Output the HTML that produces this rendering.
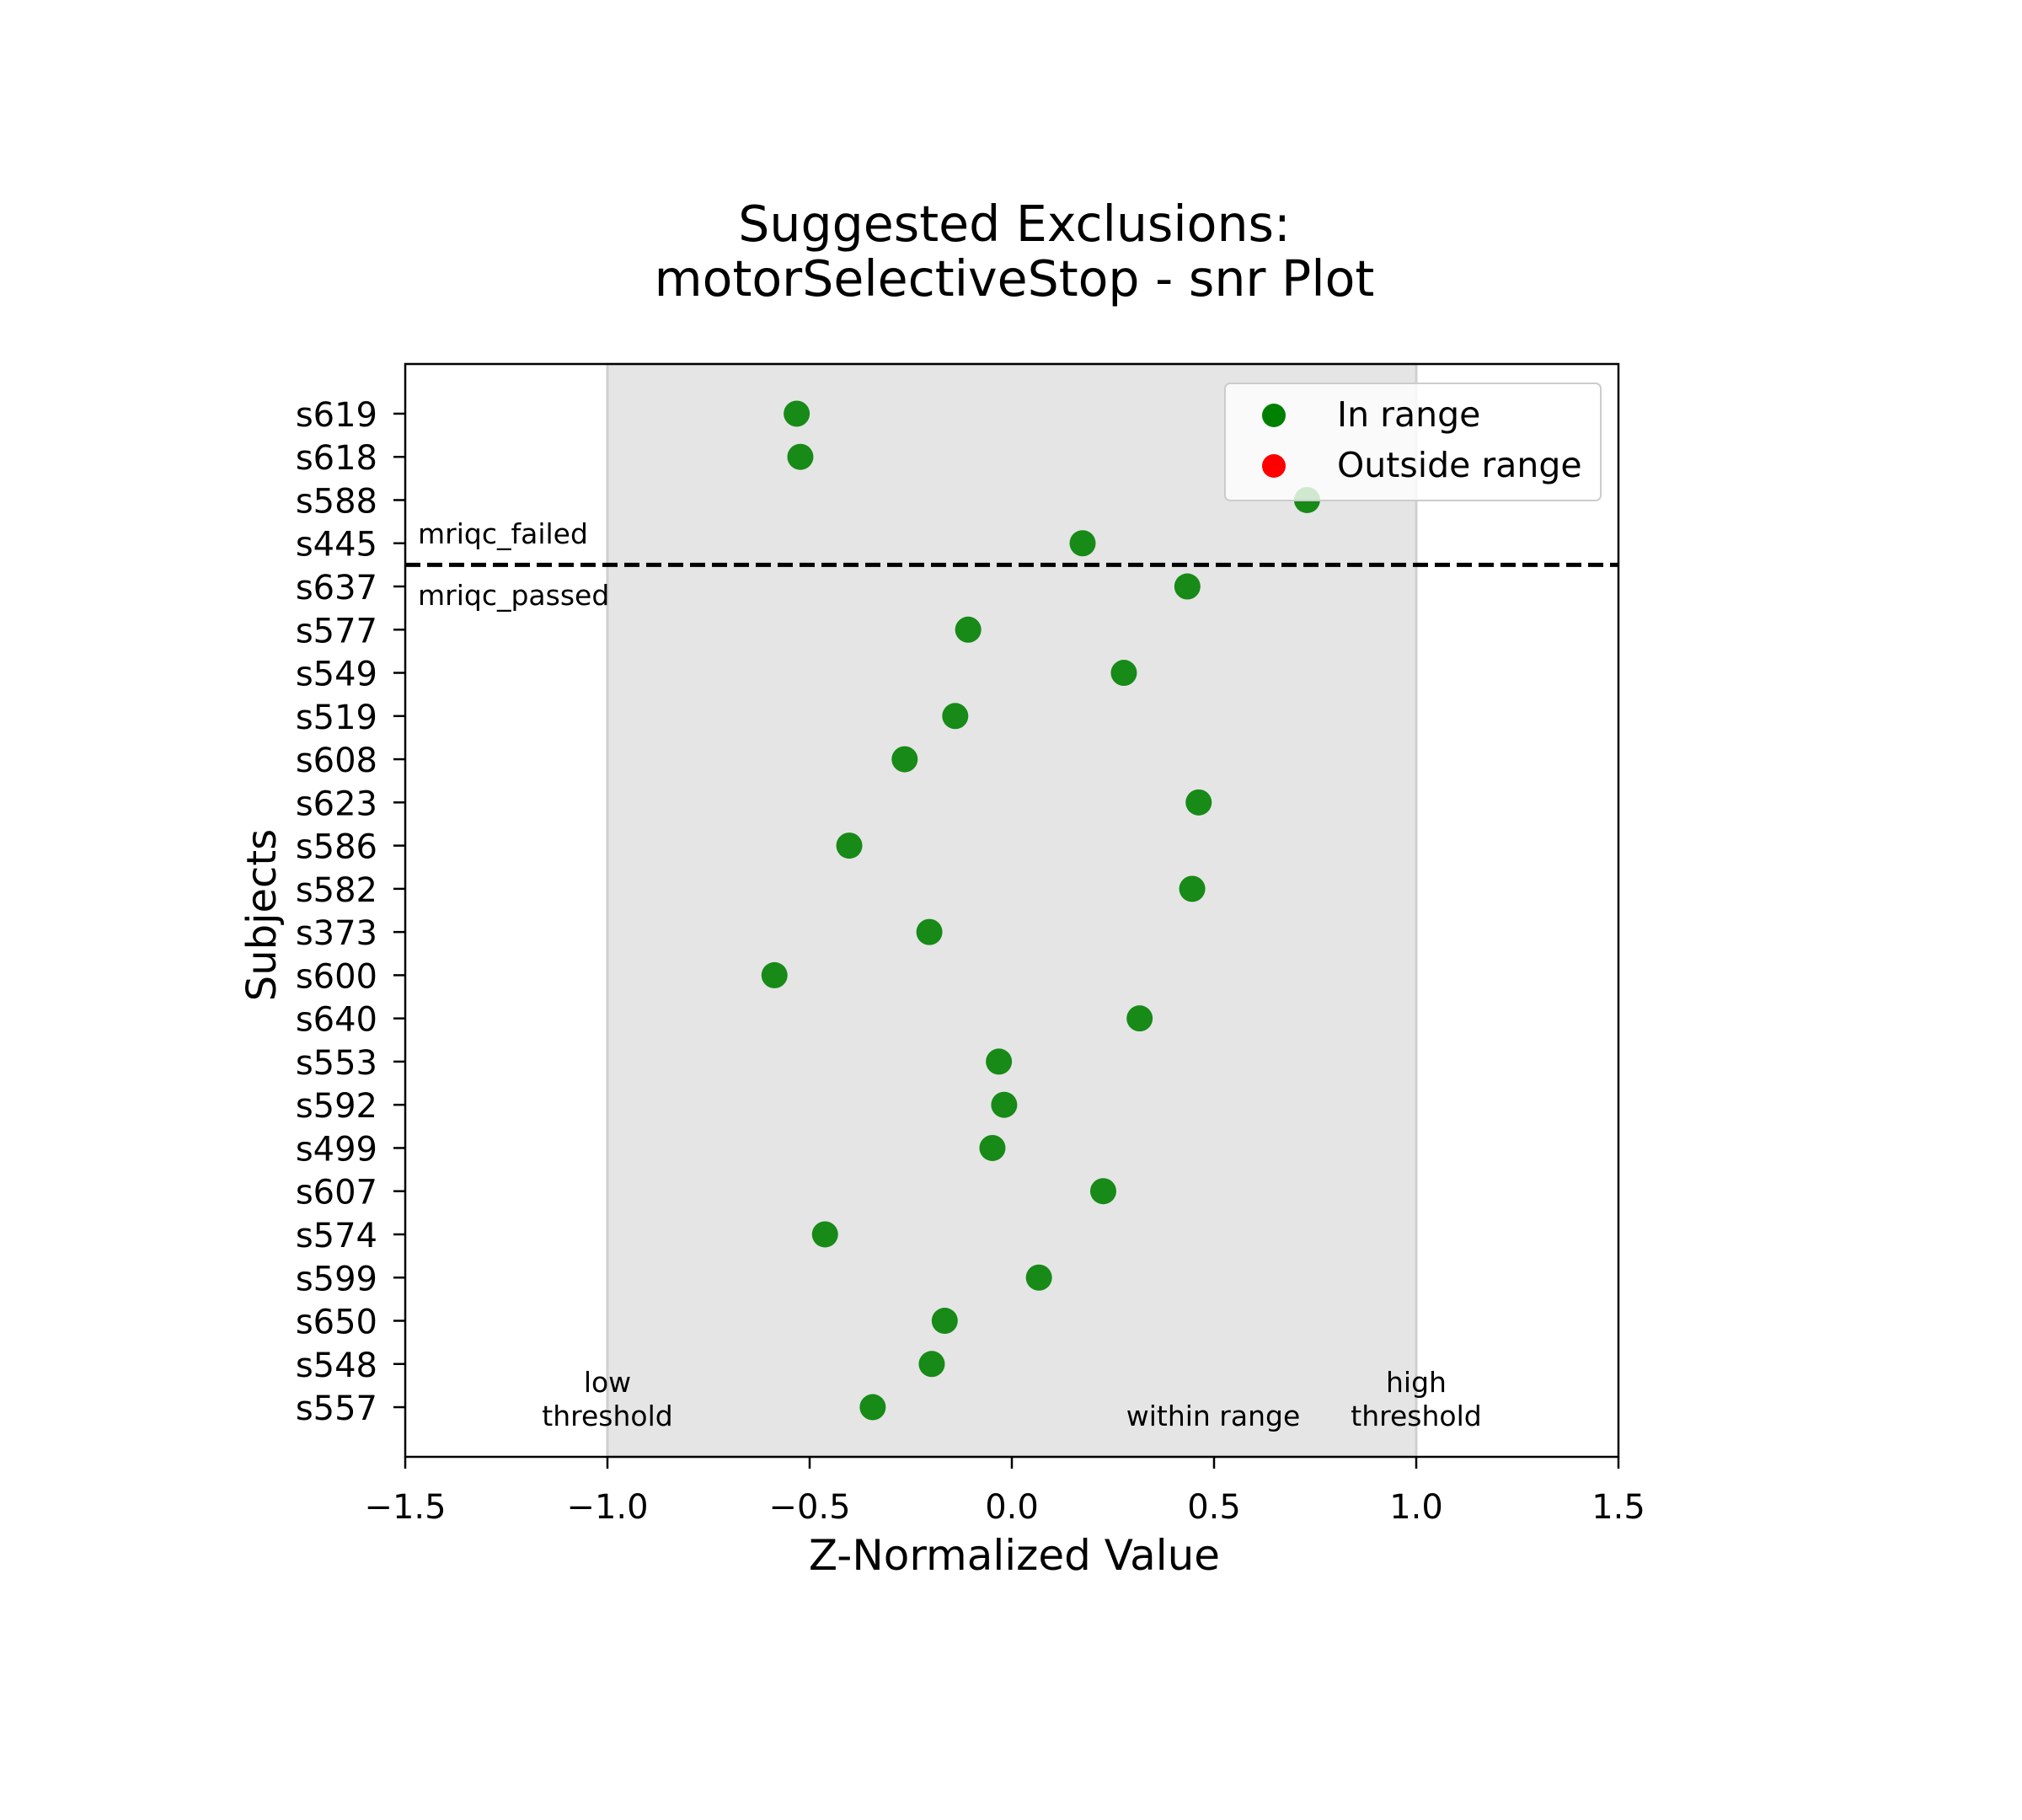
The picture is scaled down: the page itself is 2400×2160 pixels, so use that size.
<!DOCTYPE html>
<html><head><meta charset="utf-8"><style>
html,body{margin:0;padding:0;background:#fff;}
svg{display:block;font-family:"DejaVu Sans","Liberation Sans",sans-serif;}
</style></head><body>
<svg id="chart" width="2400" height="2160" viewBox="0 0 2400 2160" xmlns="http://www.w3.org/2000/svg">
<text x="1204" y="286" text-anchor="middle" font-size="58.5">Suggested Exclusions:</text>
<text x="1204" y="351" text-anchor="middle" font-size="58.5">motorSelectiveStop - snr Plot</text>
<g id="plot"></g>
<text x="1204" y="1863" text-anchor="middle" font-size="50">Z-Normalized Value</text>
<text x="0" y="0" text-anchor="middle" font-size="48" transform="translate(327,1086) rotate(-90)">Subjects</text>
</svg>
<script>
const subjects = ["s619","s618","s588","s445","s637","s577","s549","s519","s608","s623","s586","s582","s373","s600","s640","s553","s592","s499","s607","s574","s599","s650","s548","s557"];
const values = [-0.532,-0.523,0.730,0.175,0.434,-0.108,0.277,-0.140,-0.265,0.462,-0.402,0.446,-0.204,-0.587,0.316,-0.032,-0.019,-0.048,0.226,-0.462,0.067,-0.166,-0.198,-0.344];
const xTicks = [-1.5,-1.0,-0.5,0.0,0.5,1.0,1.5];
const xTickLabels = ["\u22121.5","\u22121.0","\u22120.5","0.0","0.5","1.0","1.5"];
const thresholds = [-1.0, 1.0];
const dividerIndex = 3.5;

const NS="http://www.w3.org/2000/svg";
const L=481,R=1921,T=432,B=1729;
const xMin=-1.5,xMax=1.5;
const n=subjects.length;
const pad=(n-1)*0.05;
function xs(v){return L+(v-xMin)/(xMax-xMin)*(R-L);}
function ys(i){return T+(i+pad)/((n-1)+2*pad)*(B-T);}
const g=document.getElementById('plot');
function mk(tag,attrs,txt){const e=document.createElementNS(NS,tag);for(const k in attrs)e.setAttribute(k,attrs[k]);if(txt!==undefined)e.textContent=txt;g.appendChild(e);return e;}

let e;
e=mk('rect',{x:xs(thresholds[0]),y:T,width:xs(thresholds[1])-xs(thresholds[0]),height:B-T,fill:'#e5e5e5',stroke:'#cfcfcf','stroke-width':3});



e=mk('line',{x1:L,x2:R,y1:ys(dividerIndex),y2:ys(dividerIndex),stroke:'#000','stroke-width':5,'stroke-dasharray':'18,8'});



values.forEach((v,i)=>{
  const c=mk('circle',{cx:xs(v),cy:ys(i),r:15.5,fill:'#007f00','fill-opacity':0.9});
  
  
});

e=mk('text',{x:496,y:645,'font-size':33},'mriqc_failed');


e=mk('text',{x:496,y:718,'font-size':33},'mriqc_passed');


e=mk('text',{x:xs(-1),y:1652,'font-size':33,'text-anchor':'middle'},'low');


e=mk('text',{x:xs(-1),y:1692,'font-size':33,'text-anchor':'middle'},'threshold');


e=mk('text',{x:1440,y:1692,'font-size':33,'text-anchor':'middle'},'within range');


e=mk('text',{x:xs(1),y:1652,'font-size':33,'text-anchor':'middle'},'high');


e=mk('text',{x:xs(1),y:1692,'font-size':33,'text-anchor':'middle'},'threshold');



e=mk('rect',{x:1454,y:455,width:446,height:139,rx:6,fill:'#fff','fill-opacity':0.8,stroke:'#cccccc','stroke-width':2});


e=mk('circle',{cx:1512,cy:493,r:14,fill:'#008000'});


e=mk('text',{x:1587,y:506,'font-size':41},'In range');


e=mk('circle',{cx:1512,cy:553,r:14,fill:'#ff0000'});


e=mk('text',{x:1587,y:566,'font-size':41},'Outside range');



e=mk('rect',{x:L,y:T,width:R-L,height:B-T,fill:'none',stroke:'#000','stroke-width':2.5});



xTicks.forEach((t,i)=>{
  const x=xs(t);
  const tk=mk('line',{x1:x,x2:x,y1:B,y2:B+14,stroke:'#000','stroke-width':2.5});
  
  
  const lb=mk('text',{x:x,y:1802,'font-size':40,'text-anchor':'middle'},xTickLabels[i]);
  
  
});
subjects.forEach((s,i)=>{
  const y=ys(i);
  const tk=mk('line',{x1:L-14,x2:L,y1:y,y2:y,stroke:'#000','stroke-width':2.5});
  
  
  const lb=mk('text',{x:448,y:y+15,'font-size':40,'text-anchor':'end'},s);
  
  
});
</script>
</body></html>
